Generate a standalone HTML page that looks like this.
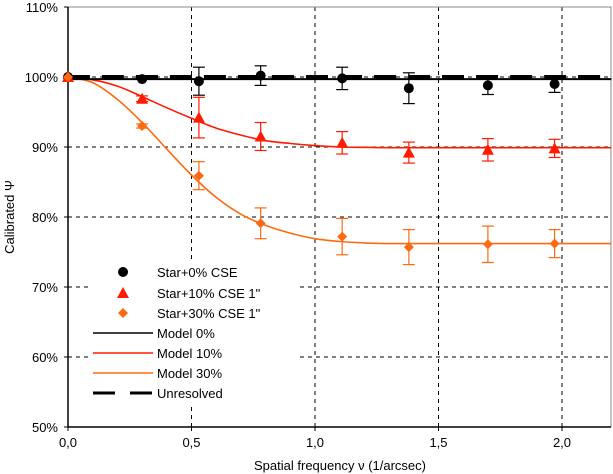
<!DOCTYPE html>
<html><head><meta charset="utf-8"><style>
body{margin:0;background:#fff;}
svg{display:block;font-family:"Liberation Sans",Arial,sans-serif;}
</style></head><body>
<svg id="chart" width="613" height="474" viewBox="0 0 613 474" xmlns="http://www.w3.org/2000/svg"></svg>
<script>
const xTicks=[0,0.5,1.0,1.5,2.0];
const xTickLabels=["0,0","0,5","1,0","1,5","2,0"];
const yTicks=[50,60,70,80,90,100,110];
const yTickLabels=["50%","60%","70%","80%","90%","100%","110%"];
const obsX=[0,0.30,0.53,0.78,1.11,1.38,1.70,1.97];
const star0=[100,99.7,99.4,100.2,99.8,98.4,98.8,99.0];
const star0Err=[0,0,2.0,1.4,1.6,2.2,1.3,1.2];
const star10=[100,96.9,94.2,91.5,90.6,89.2,89.6,89.8];
const star10Err=[0,0.4,2.9,2.0,1.6,1.5,1.6,1.3];
const star30=[100,93.0,85.9,79.1,77.2,75.7,76.1,76.2];
const star30Err=[0,0.3,2.0,2.2,2.6,2.5,2.6,2.0];
const modelX=[0,0.1,0.2,0.3,0.4,0.5,0.6,0.7,0.8,0.9,1.0,1.1,1.2,1.3,1.5,1.8,2.2];
const model0=[99.7,99.7,99.7,99.7,99.7,99.7,99.7,99.7,99.7,99.7,99.7,99.7,99.7,99.7,99.7,99.7,99.7];
const model10=[100,99.6,98.7,97.2,95.6,94.1,92.7,91.7,90.9,90.5,90.2,90.0,89.95,89.9,89.9,89.9,89.9];
const model30=[100,99.2,96.8,93.5,89.7,86.0,82.8,80.4,78.8,77.7,76.9,76.5,76.3,76.2,76.2,76.2,76.2];
const unresolvedX=[0,2.2];
const unresolved=[100,100];

const L=68,R=611,T=7,B=427;
const xs=v=>L+v*247;
const ys=v=>B-(v-50)*7;
const svg=document.getElementById('chart');
const NS='http://www.w3.org/2000/svg';
function mk(tag,attrs,parent){const e=document.createElementNS(NS,tag);for(const k in attrs)e.setAttribute(k,attrs[k]);(parent||svg).appendChild(e);return e;}

const grid=mk('g',{});


yTicks.forEach(v=>{if(v>50&&v<=110){const l=mk('line',{x1:L,x2:R,y1:ys(v),y2:ys(v),stroke:'#000','stroke-width':1,'stroke-dasharray':'4,4'},grid);}});
xTicks.forEach(v=>{if(v>0){const l=mk('line',{x1:xs(v),x2:xs(v),y1:T,y2:B,stroke:'#000','stroke-width':1,'stroke-dasharray':'4,4'},grid);}});
const frame=mk('rect',{x:L,y:T,width:R-L,height:B-T,fill:'none',stroke:'#888','stroke-width':1});



const yAxis=mk('line',{x1:L,x2:L,y1:T,y2:B,stroke:'#000','stroke-width':1.5});


const xAxis=mk('line',{x1:L,x2:R,y1:B,y2:B,stroke:'#000','stroke-width':1.5});


yTicks.forEach((v,i)=>{const t=mk('text',{x:L-10,y:ys(v)+5,'text-anchor':'end','font-size':13});t.textContent=yTickLabels[i];
 const tk=mk('line',{x1:L-4,x2:L,y1:ys(v),y2:ys(v),stroke:'#000'});});
xTicks.forEach((v,i)=>{const t=mk('text',{x:xs(v),y:B+20,'text-anchor':'middle','font-size':13});t.textContent=xTickLabels[i];
 const tk=mk('line',{x1:xs(v),x2:xs(v),y1:B,y2:B+4,stroke:'#000'});});
const xt=mk('text',{x:340,y:470,'text-anchor':'middle','font-size':13});xt.textContent='Spatial frequency ν (1/arcsec)';


const yt=mk('text',{x:14,y:217,'text-anchor':'middle','font-size':13,transform:'rotate(-90 14 217)'});yt.textContent='Calibrated Ψ';



const lg=mk('rect',{x:88,y:262,width:212,height:143,fill:'#fff'});



function smoothPath(P){let d=`M${P[0][0]},${P[0][1]}`;for(let i=0;i<P.length-1;i++){const p0=P[Math.max(0,i-1)],p1=P[i],p2=P[i+1],p3=P[Math.min(P.length-1,i+2)];
 const c1x=p1[0]+(p2[0]-p0[0])/6,c1y=p1[1]+(p2[1]-p0[1])/6,c2x=p2[0]-(p3[0]-p1[0])/6,c2y=p2[1]-(p3[1]-p1[1])/6;
 d+=` C${c1x},${c1y} ${c2x},${c2y} ${p2[0]},${p2[1]}`;}return d;}
function line(xv,yv,color,w,dash,name){const P=xv.map((x,i)=>[xs(x),ys(yv[i])]);const p=mk('path',{d:smoothPath(P),fill:'none',stroke:color,'stroke-width':w,'stroke-linejoin':'round'});if(dash)p.setAttribute('stroke-dasharray',dash);}
line(modelX,model30,'#ff6a10',1.6,null,'model-30-line');
line(modelX,model10,'#ff1a00',1.6,null,'model-10-line');
line(modelX,model0,'#000',2,null,'model-0-line');
line(unresolvedX,unresolved,'#000',4,'22,12','unresolved-line');

function err(xv,yv,ev,color,name){xv.forEach((x,i)=>{if(!ev[i])return;const g=mk('g',{stroke:color,'stroke-width':1.2});
 mk('line',{x1:xs(x),x2:xs(x),y1:ys(yv[i]+ev[i]),y2:ys(yv[i]-ev[i])},g);
 mk('line',{x1:xs(x)-6,x2:xs(x)+6,y1:ys(yv[i]+ev[i]),y2:ys(yv[i]+ev[i])},g);
 mk('line',{x1:xs(x)-6,x2:xs(x)+6,y1:ys(yv[i]-ev[i]),y2:ys(yv[i]-ev[i])},g);});}
err(obsX,star0,star0Err,'#000','star0-errorbar');
err(obsX,star10,star10Err,'#ff1a00','star10-errorbar');
err(obsX,star30,star30Err,'#ff6a10','star30-errorbar');

function circ(cx,cy){return mk('circle',{cx:cx,cy:cy,r:5,fill:'#000'});}
function tri(cx,cy){return mk('polygon',{points:`${cx},${cy-6} ${cx+6},${cy+5} ${cx-6},${cy+5}`,fill:'#ff1a00'});}
function dia(cx,cy){return mk('polygon',{points:`${cx},${cy-5} ${cx+5},${cy} ${cx},${cy+5} ${cx-5},${cy}`,fill:'#ff6a10'});}
obsX.forEach((x,i)=>{const m=circ(xs(x),ys(star0[i]));});
obsX.forEach((x,i)=>{const m=tri(xs(x),ys(star10[i]));});
obsX.forEach((x,i)=>{const m=dia(xs(x),ys(star30[i]));});

const legY=[272,293,313,333,353,373,393];
const legText=['Star+0% CSE','Star+10% CSE 1"','Star+30% CSE 1"','Model 0%','Model 10%','Model 30%','Unresolved'];
legText.forEach((s,i)=>{const y=legY[i];
 if(i===0)circ(123,y);else if(i===1)tri(123,y);else if(i===2)dia(123,y);
 else if(i===3)mk('line',{x1:93,x2:153,y1:y,y2:y,stroke:'#000','stroke-width':1.5});
 else if(i===4)mk('line',{x1:93,x2:153,y1:y,y2:y,stroke:'#ff1a00','stroke-width':1.5});
 else if(i===5)mk('line',{x1:93,x2:153,y1:y,y2:y,stroke:'#ff6a10','stroke-width':1.5});
 else mk('line',{x1:93,x2:153,y1:y,y2:y,stroke:'#000','stroke-width':3,'stroke-dasharray':'22,15'});
 const t=mk('text',{x:157,y:y+5,'font-size':13});t.textContent=s;
 
 
});
</script>
</body></html>
